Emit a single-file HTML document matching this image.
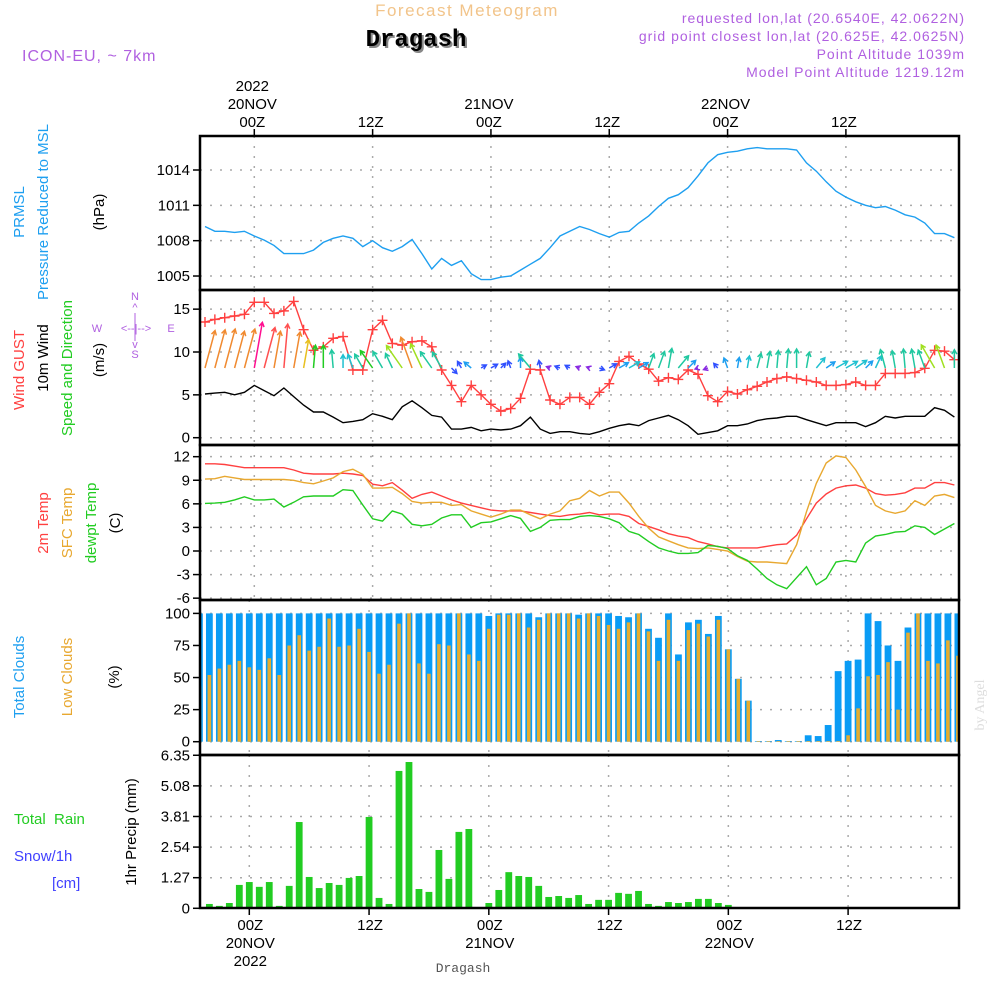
<!DOCTYPE html>
<html><head><meta charset="utf-8">
<style>
html,body{margin:0;padding:0;background:#fff;}
svg{display:block;font-family:"Liberation Sans",sans-serif;}
</style></head>
<body>
<svg id="chart" width="1000" height="1000" viewBox="0 0 1000 1000" xmlns="http://www.w3.org/2000/svg">
<g>
<text x="467" y="16" font-size="17" fill="#f2c48a" text-anchor="middle" letter-spacing="1.5">Forecast Meteogram</text>
<text x="418" y="48" font-size="24" font-weight="bold" fill="#888" text-anchor="middle" font-family="Liberation Mono, monospace">Dragash</text>
<text x="416" y="46" font-size="24" font-weight="bold" fill="#000" text-anchor="middle" font-family="Liberation Mono, monospace">Dragash</text>
<text x="22" y="61" font-size="16" fill="#b060e0" letter-spacing="1">ICON-EU, ~ 7km</text>
<text x="965" y="23" font-size="14" fill="#b060e0" text-anchor="end" letter-spacing="1">requested lon,lat (20.6540E, 42.0622N)</text>
<text x="965" y="41" font-size="14" fill="#b060e0" text-anchor="end" letter-spacing="1">grid point closest lon,lat (20.625E, 42.0625N)</text>
<text x="965" y="59" font-size="14" fill="#b060e0" text-anchor="end" letter-spacing="1">Point Altitude 1039m</text>
<text x="965" y="77" font-size="14" fill="#b060e0" text-anchor="end" letter-spacing="1">Model Point Altitude 1219.12m</text>
</g>
<g id="grids"></g>
<g id="marks"></g>
<g id="axes"></g>
<g font-size="15">
<text transform="translate(24,212) rotate(-90)" text-anchor="middle" fill="#1e9ff0">PRMSL</text>
<text transform="translate(48,212) rotate(-90)" text-anchor="middle" fill="#1e9ff0">Pressure Reduced to MSL</text>
<text transform="translate(104,212) rotate(-90)" text-anchor="middle" fill="#000">(hPa)</text>
<text transform="translate(24,370) rotate(-90)" text-anchor="middle" fill="#ff4040">Wind GUST</text>
<text transform="translate(48,358) rotate(-90)" text-anchor="middle" fill="#000">10m Wind</text>
<text transform="translate(72,368) rotate(-90)" text-anchor="middle" fill="#22cc22">Speed and Direction</text>
<text transform="translate(104,360) rotate(-90)" text-anchor="middle" fill="#000">(m/s)</text>
<g fill="#b060e0" font-size="11" text-anchor="middle">
<text x="135" y="300">N</text><text x="135" y="311">^</text>
<text x="97" y="332">W</text><text x="136" y="332">&lt;--|--&gt;</text><text x="171" y="332">E</text>
<text x="135" y="348">v</text><text x="135" y="358">S</text>
<line x1="135" y1="313" x2="135" y2="341" stroke="#b060e0" stroke-width="1"/>
</g>
<text transform="translate(48,523) rotate(-90)" text-anchor="middle" fill="#ff4040">2m Temp</text>
<text transform="translate(72,523) rotate(-90)" text-anchor="middle" fill="#e8a830">SFC Temp</text>
<text transform="translate(96,523) rotate(-90)" text-anchor="middle" fill="#22cc22">dewpt Temp</text>
<text transform="translate(120,523) rotate(-90)" text-anchor="middle" fill="#000">(C)</text>
<text transform="translate(24,677) rotate(-90)" text-anchor="middle" fill="#1e9ff0">Total Clouds</text>
<text transform="translate(72,677) rotate(-90)" text-anchor="middle" fill="#e8a830">Low Clouds</text>
<text transform="translate(119,677) rotate(-90)" text-anchor="middle" fill="#000">(%)</text>
<text x="14" y="824" fill="#22cc22" xml:space="preserve">Total  Rain</text>
<text x="14" y="861" fill="#4040ff">Snow/1h</text>
<text x="52" y="888" fill="#4040ff">[cm]</text>
<text transform="translate(136,832) rotate(-90)" text-anchor="middle" fill="#000">1hr Precip (mm)</text>
<text transform="translate(984,705) rotate(-90)" text-anchor="middle" fill="#ddd" font-family="Liberation Serif, serif" font-size="14">by Angel</text>
<text x="463" y="972" text-anchor="middle" fill="#555" font-size="13" font-family="Liberation Mono, monospace">Dragash</text>
</g>
</svg>
<script>
const hours=[];for(let h=-5;h<=71;h++)hours.push(h);
const pressure=[1009.2,1008.8,1008.8,1008.7,1008.8,
1008.4,1008.05,1007.6,1006.9,1006.9,1006.9,1007.2,1007.85,1008.2,1008.4,
1008.2,1007.5,1008.0,1007.4,1007.1,1007.5,1008.1,1006.9,1005.6,1006.5,
1005.9,1006.3,1005.2,1004.7,1004.7,1004.9,1005.0,1005.5,1006.0,1006.5,
1007.4,1008.4,1008.8,1009.2,1008.95,1008.6,1008.3,1008.7,1008.8,1009.5,
1010.1,1010.9,1011.6,1011.9,1012.5,1013.5,1014.6,1015.3,1015.5,1015.6,
1015.8,1015.9,1015.8,1015.8,1015.8,1015.7,1014.6,1013.9,1013.0,1012.2,
1011.7,1011.3,1011.0,1010.8,1010.9,1010.6,1010.2,1010.0,1009.5,1008.6,
1008.6,1008.25];
const gust=[13.5,13.8,14.0,14.2,14.4,
15.8,15.8,14.5,14.8,15.9,12.6,10.2,10.6,11.6,11.8,
7.9,7.9,12.6,13.7,11.0,10.8,11.2,11.3,10.6,7.9,
6.1,4.2,6.1,5.0,3.9,3.1,3.4,4.6,8.0,7.9,
4.4,3.9,4.7,4.7,3.9,5.3,6.3,8.9,9.5,8.6,
8.0,6.6,7.0,6.8,7.9,7.4,4.9,4.2,5.4,5.1,
5.6,6.0,6.5,6.9,7.1,6.9,6.7,6.5,6.1,6.1,
6.2,6.5,6.1,6.1,7.5,7.5,7.5,7.6,8.1,10.2,
10.1,9.1];
const wind10=[5.1,5.2,5.3,5.0,5.3,
6.1,5.5,4.9,5.8,4.8,3.8,3.0,3.0,2.4,1.75,
1.9,2.1,2.8,2.5,2.1,3.6,4.3,3.5,2.6,2.4,
1.0,1.0,1.2,0.8,1.0,0.9,1.0,1.4,2.4,1.0,
0.5,0.7,0.7,0.5,0.4,0.7,1.1,1.4,1.6,1.4,
2.0,2.3,2.6,2.1,1.4,0.4,0.6,0.8,1.4,1.4,
1.6,2.0,2.2,2.3,2.5,2.5,2.1,1.75,1.4,1.75,
1.75,1.75,1.3,1.75,2.5,2.3,2.5,2.5,2.5,3.5,
3.2,2.4];
const windDir=[15,15,15,15,15,
10,15,10,5,10,10,5,0,-5,0,
-20,-30,-35,-30,-25,-35,-20,-25,-35,-30,
135,-30,-50,60,60,45,-20,0,-40,-10,
-70,-70,-60,-70,-70,110,60,60,60,60,
20,20,10,40,45,-110,-110,-40,-20,10,
10,15,10,5,5,0,10,40,55,60,
60,55,45,25,-15,-10,-5,-10,-20,-30,
-20,0];
const temp2m=[11.1,11.1,11.0,10.8,10.6,
10.6,10.6,10.6,10.6,10.3,9.9,9.8,9.8,9.8,9.9,
9.8,9.6,8.5,8.3,8.7,7.75,6.7,7.2,7.5,7.0,
6.5,6.1,5.8,5.5,5.2,5.1,5.1,5.1,4.9,4.7,
4.5,4.4,4.6,4.7,4.9,4.6,4.7,4.7,4.4,3.5,
3.1,2.7,2.2,1.9,1.7,1.2,0.9,0.55,0.4,0.4,
0.4,0.4,0.6,0.8,0.9,2.0,4.1,6.1,7.25,8.0,
8.3,8.4,8.0,7.3,7.1,7.2,7.4,8.0,8.0,8.7,
8.7,8.4];
const tempSfc=[9.15,9.2,9.5,9.3,9.1,
9.1,9.1,9.1,9.1,9.0,8.7,8.55,8.9,9.3,10.1,
10.4,9.75,8.0,8.0,8.1,7.3,6.3,6.1,6.2,6.2,
5.8,5.9,5.1,4.7,4.3,4.7,5.2,5.2,4.6,4.1,
4.7,5.1,6.4,6.7,7.7,7.0,7.5,7.5,6.1,4.4,
2.9,1.8,1.3,0.8,0.4,0.3,0.4,0.2,0.0,-0.7,
-1.3,-1.4,-1.4,-1.5,-1.6,0.8,5.0,8.6,11.2,12.1,
11.9,10.3,8.2,5.8,5.1,4.8,5.1,6.4,5.8,7.0,
7.2,6.8];
const dewpt=[6.05,6.1,6.2,6.5,6.9,
6.5,6.5,6.6,5.6,6.2,6.9,7.0,7.0,7.0,7.8,
7.7,5.85,4.1,3.8,5.1,4.7,3.4,3.2,3.4,4.2,
4.6,4.6,3.0,3.6,3.7,4.1,4.5,4.15,2.5,3.0,
3.9,4.0,4.0,4.4,4.5,4.4,4.1,3.6,2.5,2.1,
1.2,0.4,0.0,-0.3,-0.3,-0.2,0.7,0.6,0.3,-0.6,
-1.2,-2.3,-3.5,-4.3,-4.8,-3.4,-2.0,-4.3,-3.5,-1.4,
-1.2,-1.4,1.0,1.9,2.1,2.4,2.5,3.2,3.0,2.1,
2.8,3.5];
const totalClouds=[100,100,100,100,100,100,100,100,100,100,100,100,100,100,100,
100,100,100,100,100,100,100,100,100,100,100,100,100,100,98,100,100,100,100,97,100,100,100,99,
100,100,100,98,97,100,88,81,100,68,93,95,84,98,72,49,32,0.5,0.5,1.3,0.5,0.5,5,4.4,13,55,63,64,100,94,75,63,89,100,100,100,100,100];
const lowClouds=[43,52,57,60,63,58,56,65,52,75,83,71,74,96,74,75,88,70,53,60,92,100,61,53,76,75,100,68,63,88,99,99,100,89,95,100,100,100,96,
100,98,91,88,93,100,86,63,95,63,87,92,82,95,72,49,32,0.5,0.5,0.5,0.5,0.5,0.5,0.5,0.5,0.5,5,26,51,52,62,25,85,100,63,61,79,67];
const precip=[0,0.18,0.1,0.22,0.97,1.09,0.89,1.09,0.1,0.93,3.58,1.3,0.84,1.05,0.97,
1.26,1.34,3.79,0.43,0.18,5.7,6.07,0.8,0.68,2.42,1.22,3.17,3.29,0,
0.22,0.76,1.5,1.34,1.3,0.93,0.47,0.51,0.43,0.55,
0.18,0.35,0.35,0.64,0.6,0.72,0.18,0.1,0.26,0.22,0.26,0.39,0.39,0.22,0.14,
0,0,0,0,0,0,0,0,0,0,0,0,0,0,0,0,0,0,0,0,0,0,0];
const pTicks=[1014,1011,1008,1005];
const wTicks=[15,10,5,0];
const tTicks=[12,9,6,3,0,-3,-6];
const cTicks=[100,75,50,25,0];
const rTicks=["6.35","5.08","3.81","2.54","1.27","0"];
const timeTicks=[0,12,24,36,48,60];
const topLabels=[["2022","20NOV","00Z"],["","","12Z"],["","21NOV","00Z"],["","","12Z"],["","22NOV","00Z"],["","","12Z"]];
const botLabels=[["00Z","20NOV","2022"],["12Z","",""],["00Z","21NOV",""],["12Z","",""],["00Z","22NOV",""],["12Z","",""]];

const NS="http://www.w3.org/2000/svg";
const X0=200,X1=959;
const xa=h=>254.3+9.86*h;
const xb=h=>249.3+9.98*h;
const yP=v=>170+(1014-v)*11.78;
const yW=v=>437.7-v*8.57;
const yT=v=>551-v*7.86;
const yC=v=>741.7-v*1.283;
const yR=v=>908.3-v*24.1;
function mk(parent,tag,attrs){const e=document.createElementNS(NS,tag);for(const k in attrs)e.setAttribute(k,attrs[k]);parent.appendChild(e);return e;}
const grids=document.getElementById('grids'),marks=document.getElementById('marks'),axes=document.getElementById('axes');
const defs=mk(document.getElementById('chart'),'defs',{});
const cp=mk(defs,'clipPath',{id:'plotclip'});mk(cp,'rect',{x:X0,y:136,width:X1-X0,height:772});
marks.setAttribute('clip-path','url(#plotclip)');

const panels=[
 {top:136,bot:290,ticks:pTicks,y:yP,xf:xa,name:'pressure'},
 {top:290,bot:445,ticks:wTicks,y:yW,xf:xa,name:'wind'},
 {top:445,bot:600,ticks:tTicks,y:yT,xf:xa,name:'temperature'},
 {top:600,bot:755,ticks:cTicks,y:yC,xf:xb,name:'clouds'},
 {top:755,bot:908,ticks:rTicks,y:v=>yR(parseFloat(v)),xf:xb,name:'precip'}];
panels.forEach(p=>{
  p.ticks.forEach(t=>{
    const y=p.y(t);
    const g=mk(grids,'line',{x1:X0,x2:X1,y1:y,y2:y,stroke:'#aaa','stroke-dasharray':'2,8','stroke-width':1.5});
    
    
    const tk=mk(axes,'line',{x1:193,x2:X0,y1:y,y2:y,stroke:'#000','stroke-width':1.5});
    
    
    const tx=mk(axes,'text',{x:190,y:y+5,'text-anchor':'end','font-size':15,fill:'#000'});
    tx.textContent=String(t);
    
    
  });
  timeTicks.forEach(h=>{
    const x=p.xf(h);
    const g=mk(grids,'line',{x1:x,x2:x,y1:p.top,y2:p.bot,stroke:'#aaa','stroke-dasharray':'2,8','stroke-width':1.5});
    
    
  });
  const r=mk(axes,'rect',{x:X0,y:p.top,width:X1-X0,height:p.bot-p.top,fill:'none',stroke:'#000','stroke-width':2.5});
  
  
});
timeTicks.forEach((h,i)=>{
  const x=xa(h);
  const t=mk(axes,'line',{x1:x,x2:x,y1:129,y2:136,stroke:'#000','stroke-width':1.5});
  
  
  topLabels[i].forEach((s,j)=>{ if(!s)return;
    const e=mk(axes,'text',{x:x-2,y:91+j*18,'text-anchor':'middle','font-size':15,fill:'#000'});
    e.textContent=s;
    
    
  });
  const xb2=xb(h);
  const t2=mk(axes,'line',{x1:xb2,x2:xb2,y1:908,y2:915,stroke:'#000','stroke-width':1.5});
  
  
  botLabels[i].forEach((s,j)=>{ if(!s)return;
    const e=mk(axes,'text',{x:xb2+1,y:930+j*18,'text-anchor':'middle','font-size':15,fill:'#000'});
    e.textContent=s;
    
    
  });
});
function line(vals,xf,yf,color,name,w){
  const d=vals.map((v,i)=>(i?'L':'M')+xf(hours[i]).toFixed(1)+','+yf(v).toFixed(1)).join('');
  const e=mk(marks,'path',{d:d,fill:'none',stroke:color,'stroke-width':w||1.4});
  
  
}
line(pressure,xa,yP,'#1e9ff0','pressure-line');
line(wind10,xa,yW,'#000','wind-10m-line');
line(gust,xa,yW,'#ff4040','wind-gust-line');
gust.forEach((v,i)=>{
  const x=xa(hours[i]),y=yW(v);
  const e=mk(marks,'path',{d:`M${x-5},${y}h10M${x},${y-5}v10`,stroke:'#ff4040','stroke-width':1.4});
  
  
});
const palette=[[0.7,'#8a2be2'],[1.2,'#3050ff'],[1.6,'#1e9ff0'],[2.0,'#20c0d0'],[2.8,'#20c8a0'],[3.2,'#22cc22'],[3.7,'#a0e020'],[4.2,'#e8c020'],[5.4,'#f08a30'],[6.0,'#ff5050'],[99,'#ff1090']];
function windColor(s){for(const [lim,c] of palette) if(s<lim) return c; return '#ff1090';}
wind10.forEach((s,i)=>{
  const x0=xa(hours[i]),y0=368,L=7.6*s,a=windDir[i]*Math.PI/180;
  const x1=x0+L*Math.sin(a),y1=y0-L*Math.cos(a);
  const hl=5,ux=Math.sin(a),uy=-Math.cos(a);
  const hx1=x1-hl*(ux*0.87-uy*0.5),hy1=y1-hl*(uy*0.87+ux*0.5);
  const hx2=x1-hl*(ux*0.87+uy*0.5),hy2=y1-hl*(uy*0.87-ux*0.5);
  const e=mk(marks,'path',{d:`M${x0},${y0}L${x1},${y1}M${hx1},${hy1}L${x1},${y1}L${hx2},${hy2}`,fill:'none',stroke:windColor(s),'stroke-width':1.5});
  
  
});
line(temp2m,xa,yT,'#ff4040','temp-2m-line');
line(tempSfc,xa,yT,'#e8a830','sfc-temp-line');
line(dewpt,xa,yT,'#22cc22','dewpoint-line');
totalClouds.forEach((v,i)=>{
  const x=xb(hours[i]);
  const b=mk(marks,'rect',{x:x-3.4,y:yC(v),width:6.8,height:yC(0)-yC(v),fill:'#0a9cf5'});
  
  
  const lv=lowClouds[i];
  const o=mk(marks,'rect',{x:x-1.8,y:yC(lv),width:3.6,height:yC(0)-yC(lv),fill:'#e6ac2e'});
  
  
});
precip.forEach((v,i)=>{
  if(v<=0)return;
  const x=xb(hours[i]);
  const b=mk(marks,'rect',{x:x-3.4,y:yR(v),width:6.8,height:yR(0)-yR(v),fill:'#22cc22'});
  
  
});
</script>
</body></html>
